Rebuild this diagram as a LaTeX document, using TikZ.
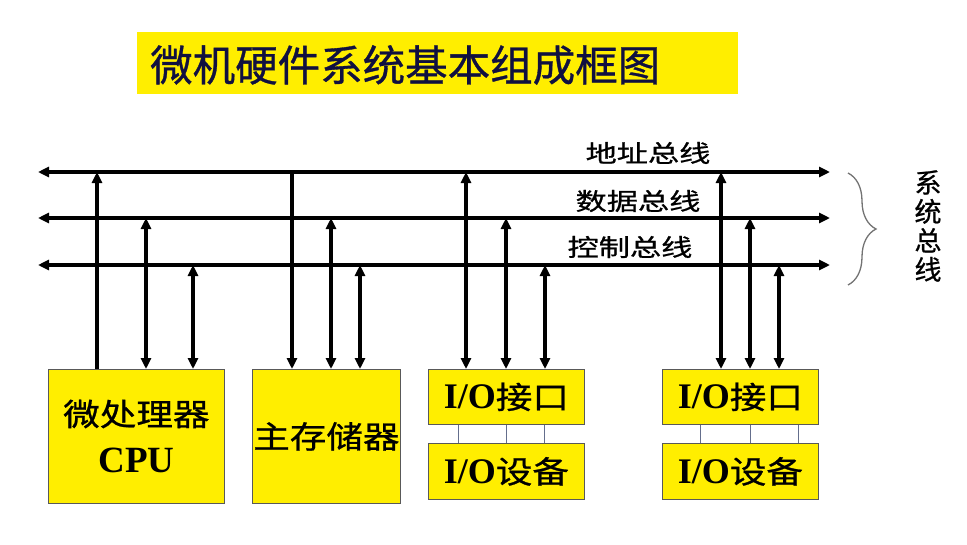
\documentclass[tikz,border=0pt]{standalone}
\usepackage{fontspec}
\newfontfamily\cjk[FakeBold=0.8]{Noto Sans CJK SC}
\newfontfamily\tnr{Liberation Serif}
\usetikzlibrary{arrows.meta,decorations.pathreplacing}
\definecolor{boxyellow}{RGB}{255,238,0}
\definecolor{titleink}{RGB}{16,16,64}
\definecolor{linkgray}{RGB}{100,110,140}
\newcommand{\wide}[2][1.18]{\scalebox{#1}[1]{#2}}
\newcommand{\iotext}[1]{{\tnr\bfseries\fontsize{36}{36}\selectfont I/O}\wide{#1}}
\tikzset{
  blk/.style={draw=black!65, line width=0.8pt, fill=boxyellow, anchor=north west,
    inner sep=0pt, font=\cjk\fontsize{31}{47}\selectfont, align=center},
  tap/.style={line width=3.1pt},
  buslabel/.style={font=\cjk\fontsize{24}{24}\selectfont, inner sep=0pt},
  link/.style={draw=linkgray, line width=1pt}
}
\begin{document}
\begin{tikzpicture}[x=1pt, y=-1pt, >={Triangle[length=11pt,width=10pt]}]
  \useasboundingbox (0,0) rectangle (967,544);
  % title
  \fill[boxyellow] (137,32) rectangle (738,94);
  \node[anchor=west, inner sep=0pt, text=titleink, font=\cjk\fontsize{42.5}{42.5}\selectfont] (title) at (150,65) {微机硬件系统基本组成框图};
  % buses
  \coordinate (abL) at (38,172); \coordinate (abR) at (830,172);
  \coordinate (dbL) at (38,218); \coordinate (dbR) at (830,218);
  \coordinate (cbL) at (38,265); \coordinate (cbR) at (830,265);
  \draw[tap,<->] (abL) -- (abR);
  \draw[tap,<->] (dbL) -- (dbR);
  \draw[tap,<->] (cbL) -- (cbR);
  \node[buslabel] (ablab) at (648,153) {\wide[1.3]{地址总线}};
  \node[buslabel] (dblab) at (638,201) {\wide[1.3]{数据总线}};
  \node[buslabel] (cblab) at (630,247) {\wide[1.3]{控制总线}};
  \draw[black!55, line width=1.3pt, decorate, decoration={brace, amplitude=28pt}] (848,173) -- (848,285);
  \node[font=\cjk\fontsize{27}{29}\selectfont, align=center, inner sep=0pt] (sysbus) at (928,226) {系\\统\\总\\线};
  % blocks
  \node[blk, minimum width=176, minimum height=134] (cpu) at (48,369) {\wide{微处理器}\\{\tnr\bfseries\fontsize{37}{37}\selectfont CPU}};
  \node[blk, minimum width=148, minimum height=134] (mem) at (252,369) {\wide{主存储器}};
  \node[blk, minimum width=156, minimum height=55] (io1) at (428,369) {\iotext{接口}};
  \node[blk, minimum width=156, minimum height=56] (dev1) at (428,443) {\iotext{设备}};
  \node[blk, minimum width=156, minimum height=55] (io2) at (662,369) {\iotext{接口}};
  \node[blk, minimum width=156, minimum height=56] (dev2) at (662,443) {\iotext{设备}};
  % taps
  \draw[tap,->] (97,0 |- cpu.north) -- (97,0 |- abL);
  \draw[tap,->] (292,0 |- abL) -- (292,0 |- mem.north);
  \foreach \x/\bus/\blkname in {146/dbL/cpu, 193/cbL/cpu, 331/dbL/mem, 360/cbL/mem,
      466/abL/io1, 506/dbL/io1, 545/cbL/io1, 721/abL/io2, 750/dbL/io2, 779/cbL/io2}
    \draw[tap,<->] (\x,0 |- \bus) -- (\x,0 |- \blkname.north);
  \foreach \x in {458,506,544}
    \draw[link] (\x,0 |- io1.south) -- (\x,0 |- dev1.north);
  \foreach \x in {700,750,798}
    \draw[link] (\x,0 |- io2.south) -- (\x,0 |- dev2.north);
\end{tikzpicture}
\end{document}
